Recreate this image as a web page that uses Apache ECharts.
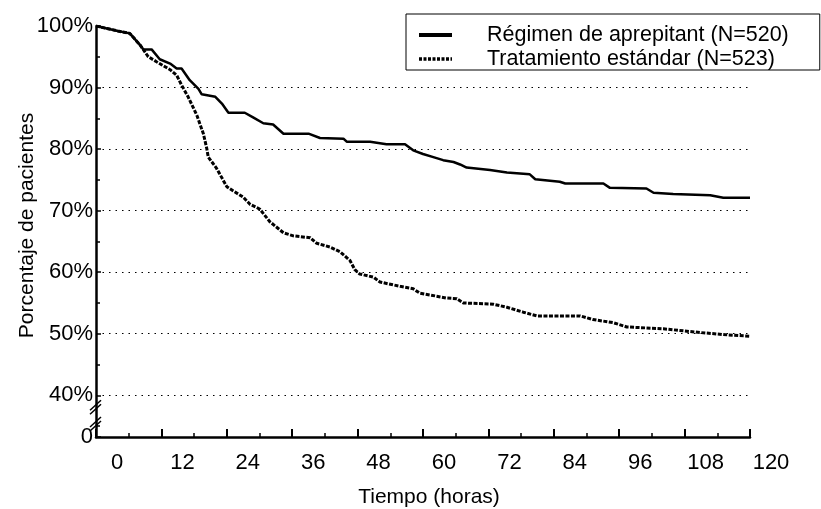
<!DOCTYPE html>
<html>
<head>
<meta charset="utf-8">
<script src="https://cdn.jsdelivr.net/npm/echarts@6/dist/echarts.min.js"></script>
<style>
  html, body { margin: 0; padding: 0; background: #fff; }
  #chart { width: 821px; height: 509px; }
</style>
</head>
<body>
<div id="chart"></div>
<script>
// curve data (hours, % of patients)
const aprepTime = [0, 2, 4, 6.2, 8.1, 8.7, 10.2, 11.7, 13.6, 14.8, 15.7, 17.2, 18.8, 19.4, 21.9, 23.1, 24.3, 27.3, 28.9, 30.7,
  32.5, 34.4, 39.0, 41.1, 45.4, 46.0, 50.3, 53.3, 56.7, 58.2, 60.0, 61.9, 63.7, 65.6, 66.8, 68.0, 72.3, 75.4, 79.6, 80.6,
  85.1, 86.1, 93.1, 94.3, 101.0, 102.3, 105.9, 112.7, 115.1, 120];
const aprepValue = [100, 99.6, 99.2, 98.8, 96.9, 96.2, 96.2, 94.6, 93.9, 93.1, 93.1, 91.2, 89.8, 88.9, 88.5, 87.4, 85.9, 85.9, 85.1, 84.2,
  84.0, 82.5, 82.5, 81.8, 81.7, 81.2, 81.2, 80.8, 80.8, 79.8, 79.2, 78.7, 78.2, 77.9, 77.5, 77.0, 76.6, 76.2, 75.9, 75.1,
  74.7, 74.4, 74.4, 73.7, 73.6, 72.9, 72.7, 72.5, 72.1, 72.1];

const stdTime = [0, 2, 4, 6.2, 8.1, 9.6, 11.1, 13.6, 14.8, 15.7, 16.9, 18.5, 19.7, 20.3, 20.6, 22.1, 24.0, 25.2, 27.0, 28.3,
  29.5, 30.1, 31.9, 34.4, 36.2, 39.3, 40.5, 42.9, 44.8, 46.6, 47.5, 48.4, 50.9, 52.1, 55.8, 58.2, 59.4, 62.5, 64.3, 66.2,
  67.4, 72.9, 75.4, 78.4, 80.9, 88.8, 91.2, 94.9, 97.4, 104.1, 110.8, 116, 120];
const stdValue = [100, 99.6, 99.2, 98.8, 96.9, 95.0, 94.2, 92.9, 92.0, 90.4, 88.5, 85.5, 82.5, 80.2, 78.7, 76.9, 73.9, 73.2, 72.2, 71.0,
  70.5, 70.2, 68.2, 66.4, 65.9, 65.6, 64.7, 64.1, 63.3, 61.9, 60.4, 59.7, 59.2, 58.4, 57.7, 57.3, 56.6, 56.1, 55.8, 55.7,
  55.0, 54.8, 54.3, 53.5, 52.9, 52.9, 52.3, 51.8, 51.1, 50.8, 50.2, 49.8, 49.6];

const seriesNames = ['Régimen de aprepitant (N=520)', 'Tratamiento estándar (N=523)'];

// bottom of the (broken) y axis, shown as "0"
const yBottom = 33.22;

const FONT = '"Liberation Sans", Arial, sans-serif';
const pairs = (xs, ys) => xs.map((x, i) => [x, ys[i]]);

const solidLine = { color: '#000', width: 2.5 };
const dashedLine = { color: '#000', width: 3, type: [4, 1.5] };

const chart = echarts.init(document.getElementById('chart'));

chart.setOption({
  animation: false,
  grid: { left: 96, right: 71, top: 26, bottom: 72, outerBoundsMode: 'none' },
  legend: {
    orient: 'vertical',
    left: 406,
    top: 14,
    padding: [10, 31, 0, 11],
    itemGap: 2,
    itemWidth: 33,
    itemHeight: 12,
    borderColor: '#000',
    borderWidth: 1,
    backgroundColor: '#fff',
    itemStyle: { opacity: 0 },
    textStyle: { color: '#000', fontSize: 21.5, fontFamily: FONT, lineHeight: 22, padding: [0, 0, 0, 30] },
    data: [
      { name: seriesNames[0], lineStyle: { color: '#000', width: 4 } },
      { name: seriesNames[1], lineStyle: { color: '#000', width: 3.5, type: [3, 1.5] } }
    ]
  },
  xAxis: {
    type: 'value',
    min: 0,
    max: 120,
    interval: 12,
    name: 'Tiempo (horas)',
    nameLocation: 'middle',
    nameGap: 50,
    nameMoveOverlap: false,
    nameTextStyle: { color: '#000', fontSize: 21, fontFamily: FONT, padding: [0, 0, 0, 12] },
    axisLine: { lineStyle: { color: '#000', width: 2.5 } },
    axisTick: { inside: true, length: 8, lineStyle: { color: '#000', width: 2 } },
    minorTick: { show: true, splitNumber: 2, length: 4, lineStyle: { color: '#000', width: 1.5 } },
    axisLabel: { color: '#000', fontSize: 22, fontFamily: FONT, margin: 15, padding: [0, 0, 0, 42] },
    splitLine: { show: false }
  },
  yAxis: {
    type: 'value',
    min: yBottom,
    max: 100,
    splitNumber: 7,
    name: 'Porcentaje de pacientes',
    nameLocation: 'middle',
    nameGap: 58,
    nameMoveOverlap: false,
    nameTextStyle: { color: '#000', fontSize: 21, fontFamily: FONT, padding: [0, 0, 0, 12] },
    axisLine: { show: true, lineStyle: { color: '#000', width: 2.5 } },
    axisTick: { show: true, inside: true, length: 5, lineStyle: { color: '#000', width: 1.5 } },
    minorTick: { show: true, splitNumber: 2, length: 4, lineStyle: { color: '#000', width: 1.5 } },
    axisLabel: {
      color: '#000', fontSize: 22, fontFamily: FONT, margin: 3,
      formatter: v => (v < 39 ? '0' : Math.round(v) + '%')
    },
    splitLine: {
      show: true, showMinLine: false, showMaxLine: false,
      lineStyle: { color: '#000', width: 1, type: [1.5, 5] }
    }
  },
  series: [
    {
      name: seriesNames[0],
      type: 'line',
      showSymbol: false,
      symbol: 'none',
      symbolSize: 0,
      data: pairs(aprepTime, aprepValue),
      lineStyle: solidLine,
      itemStyle: { color: '#000' }
    },
    {
      name: seriesNames[1],
      type: 'line',
      showSymbol: false,
      symbol: 'none',
      symbolSize: 0,
      data: pairs(stdTime, stdValue),
      lineStyle: dashedLine,
      itemStyle: { color: '#000' }
    }
  ]
});

// axis break marks between 40% and 0
const p40 = chart.convertToPixel({ gridIndex: 0 }, [0, 40]);
const p0 = chart.convertToPixel({ gridIndex: 0 }, [0, yBottom]);
const ax = p40[0];
const upper = p40[1] + 12;
const lower = p0[1] - 13;
const slash = (cy, dy) => ({
  type: 'line',
  shape: { x1: ax - 6, y1: cy + dy + 5, x2: ax + 5, y2: cy + dy - 5 },
  style: { stroke: '#000', lineWidth: 1.5 }
});
chart.setOption({
  graphic: [
    {
      type: 'rect',
      shape: { x: ax - 5, y: p40[1] + 8, width: 10, height: lower - p40[1] - 5 },
      style: { fill: '#fff' }
    },
    slash(upper, -2), slash(upper, 2),
    slash(lower, -2), slash(lower, 2)
  ]
});
</script>
</body>
</html>
